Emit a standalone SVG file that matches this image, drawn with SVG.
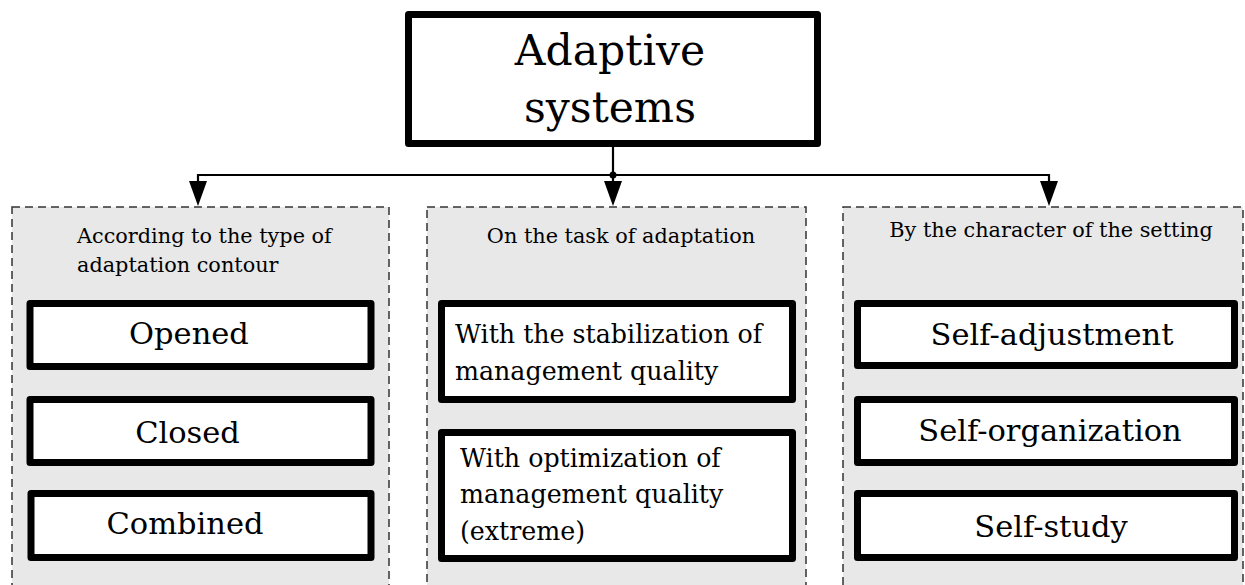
<svg xmlns="http://www.w3.org/2000/svg" width="1245" height="585" viewBox="0 0 1245 585">
<style>
.panel{fill:#e8e8e8;stroke:#333;stroke-width:1.5;stroke-dasharray:8 5}
.box{fill:#fff;stroke:#000;stroke-width:7;stroke-linejoin:round}
.t{font-family:"DejaVu Serif","Liberation Serif",serif;fill:#000}
.big{font-size:30.5px;text-anchor:middle}
.mid{font-size:25.3px}
.hdr{font-size:20.8px}
.conn{fill:none;stroke:#000;stroke-width:2.2}
.head{fill:#000}
</style>
<defs>
<path id="arrowhead" class="head" d="M-9,0 L9,0 L0,25 Z"/>
</defs>
<rect width="1245" height="585" fill="#fff"/>

<g id="panel-contour">
<rect class="panel" x="12" y="207" width="377" height="400"/>
<text class="t hdr" x="77" y="243">According to the type of</text>
<text class="t hdr" x="77" y="272">adaptation contour</text>
</g>
<g id="panel-task">
<rect class="panel" x="427" y="207" width="379" height="400"/>
<text class="t hdr" x="621" y="243" text-anchor="middle">On the task of adaptation</text>
</g>
<g id="panel-setting">
<rect class="panel" x="843" y="207" width="400" height="400"/>
<text class="t hdr" x="1051" y="237" text-anchor="middle">By the character of the setting</text>
</g>

<g id="connectors">
<path class="conn" d="M613,147 V182"/>
<path class="conn" d="M198,182 V175 H1049 V182"/>
<circle cx="613" cy="175" r="3.5" fill="#000"/>
<use href="#arrowhead" x="198" y="181"/>
<use href="#arrowhead" x="613" y="181"/>
<use href="#arrowhead" x="1049" y="181"/>
</g>

<g id="adaptive-systems">
<rect class="box" x="408.5" y="14.5" width="409" height="129"/>
<text class="t" x="610" y="65" font-size="42.5" text-anchor="middle">Adaptive</text>
<text class="t" x="610" y="122" font-size="42.5" text-anchor="middle">systems</text>
</g>

<g id="opened">
<rect class="box" x="30" y="303.5" width="341" height="63"/>
<text class="t big" x="189" y="344">Opened</text>
</g>
<g id="closed">
<rect class="box" x="30" y="399.5" width="341" height="63"/>
<text class="t big" x="187.5" y="443">Closed</text>
</g>
<g id="combined">
<rect class="box" x="31" y="493.5" width="340" height="64"/>
<text class="t big" x="185" y="534">Combined</text>
</g>

<g id="stabilization">
<rect class="box" x="441.5" y="303.5" width="351" height="96"/>
<text class="t mid" x="455" y="343">With the stabilization of</text>
<text class="t mid" x="455" y="380">management quality</text>
</g>
<g id="optimization">
<rect class="box" x="441.5" y="432.5" width="351" height="126"/>
<text class="t mid" x="460" y="467">With optimization of</text>
<text class="t mid" x="460" y="503">management quality</text>
<text class="t mid" x="460" y="540">(extreme)</text>
</g>

<g id="self-adjustment">
<rect class="box" x="857.5" y="303.5" width="377" height="62"/>
<text class="t big" x="1052" y="345">Self-adjustment</text>
</g>
<g id="self-organization">
<rect class="box" x="857.5" y="399.5" width="377" height="63"/>
<text class="t big" x="1050" y="441">Self-organization</text>
</g>
<g id="self-study">
<rect class="box" x="857.5" y="493.5" width="377" height="64"/>
<text class="t big" x="1051" y="537">Self-study</text>
</g>
</svg>
